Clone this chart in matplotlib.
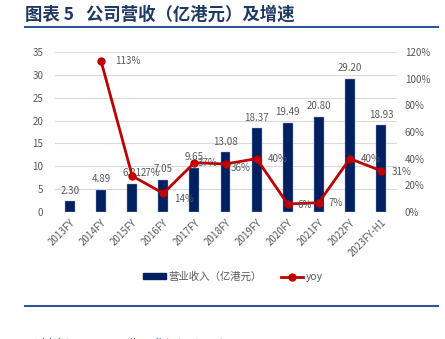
import numpy as np
import matplotlib
matplotlib.use("Agg")
import matplotlib.pyplot as plt
from matplotlib.lines import Line2D

plt.rcParams['font.family'] = ['Noto Sans CJK SC', 'DejaVu Sans']

# data
years = ["2013FY", "2014FY", "2015FY", "2016FY", "2017FY", "2018FY",
         "2019FY", "2020FY", "2021FY", "2022FY", "2023FY-H1"]
revenue = [2.30, 4.89, 6.21, 7.05, 9.65, 13.08, 18.37, 19.49, 20.80, 29.20, 18.93]
yoy = [np.nan, 113, 27, 14, 37, 36, 40, 6, 7, 40, 31]
yoy_labels = ["", "113%", "27%", "14%", "37%", "36%", "40%", "6%", "7%", "40%", "31%"]

navy = "#002060"
red = "#C00000"
gray = "#595959"
title_blue = "#1F3864"

W, H = 445, 339
fig = plt.figure(figsize=(W / 100, H / 100), dpi=100)

def fx(px):
    return px / W

def fy(py):
    return 1 - py / H

# title + rules
fig.text(fx(25), fy(15), "图表 5   公司营收（亿港元）及增速", fontsize=12.5,
         fontweight="bold", color=title_blue, va="center", ha="left")
fig.add_artist(Line2D([fx(25), fx(438)], [fy(27), fy(27)], color="#2E5597", lw=1.5))
fig.add_artist(Line2D([fx(25), fx(438)], [fy(306), fy(306)], color="#2E5597", lw=1.5))
# source line, mostly cut off by the bottom edge as in the reference
fig.text(fx(28), fy(338.5), "资料来源：公司公告，华福证券研究所", fontsize=9,
         color=title_blue, va="top", ha="left")

ax = fig.add_axes([fx(54.5), fy(212), fx(396.5) - fx(54.5), fy(52) - fy(212)])
x = np.arange(len(years))

ax.bar(x, revenue, width=0.32, color=navy, edgecolor="#8EA9DB", linewidth=0.3, zorder=2)
ax.set_xlim(-0.5, len(years) - 0.5)
ax.set_ylim(0, 35)
ax.set_yticks(np.arange(0, 36, 5))
ax.yaxis.grid(True, color="#D9D9D9", lw=0.8)
ax.set_axisbelow(True)
for s in ax.spines.values():
    s.set_visible(False)
ax.tick_params(axis="both", length=0, colors=gray, labelsize=7)
ax.set_xticks(x)
ax.set_xticklabels(years, rotation=45, ha="right", rotation_mode="anchor")
ax.tick_params(axis="x", pad=4)
ax.tick_params(axis="y", pad=8)

for xi, v in zip(x, revenue):
    ax.text(xi, v + 1.2, f"{v:.2f}", ha="center", va="bottom", fontsize=7, color=gray)

ax2 = ax.twinx()
ax2.set_ylim(0, 120)
ax2.set_yticks(np.arange(0, 121, 20))
ax2.set_yticklabels([f"{t}%" for t in range(0, 121, 20)])
for s in ax2.spines.values():
    s.set_visible(False)
ax2.tick_params(axis="y", length=0, colors=gray, labelsize=7, pad=6)
ax2.plot(x, yoy, color=red, lw=2, marker="o", markersize=5, zorder=3)

# label offsets (in points) per point
offsets = [(0, 0), (10, 0), (6, 2), (8, -4), (2, 0), (4, -3),
           (8, 0), (7, -1), (7, 0), (8, 0), (8, -1)]
for xi, v, lab, (dx, dy) in zip(x, yoy, yoy_labels, offsets):
    if lab:
        ax2.annotate(lab, (xi, v), xytext=(dx, dy), textcoords="offset points",
                     ha="left", va="center", fontsize=7, color=gray, zorder=4)

handles = [plt.Rectangle((0, 0), 1, 1, color=navy),
           Line2D([], [], color=red, lw=2, marker="o", markersize=5)]
fig.legend(handles, ["营业收入（亿港元）", "yoy"], loc="center",
           bbox_to_anchor=(fx(233), fy(277)), ncol=2, frameon=False,
           fontsize=7.5, labelcolor=gray, handlelength=2.2, handleheight=0.5,
           columnspacing=1.8, handletextpad=0.2)

fig.savefig("out.png", dpi=100)
